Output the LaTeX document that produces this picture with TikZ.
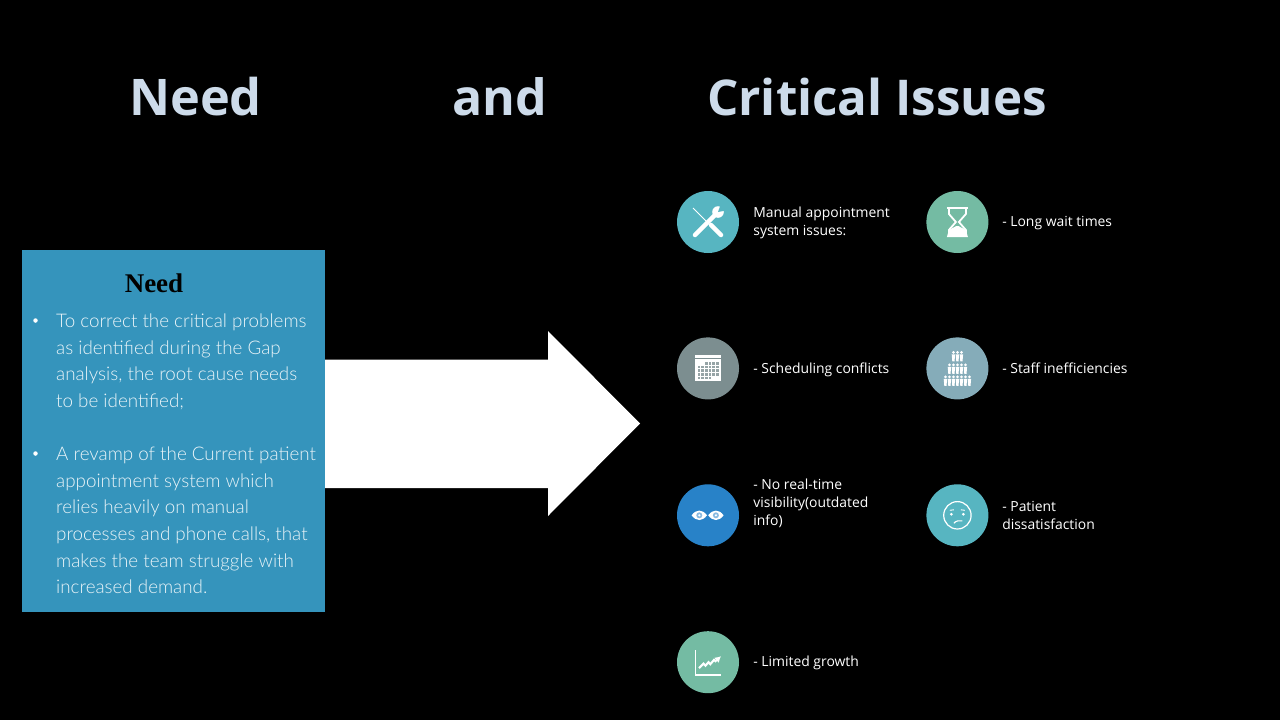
\documentclass[tikz,border=0pt]{standalone}
\usepackage{fontspec}
\usepackage{tikz}
\usetikzlibrary{positioning, arrows.meta}
\setmainfont{Carlito}
\newfontfamily\bodyfont{Lato Light}
\newfontfamily\titlefont{Open Sans}
\newfontfamily\labelfont{Open Sans}
\newfontfamily\headfont{Liberation Serif}
\definecolor{titleblue}{HTML}{CDDBEA}
\definecolor{needbox}{HTML}{3594BC}
\definecolor{bodytext}{HTML}{EAF4F8}
\definecolor{teal}{HTML}{57B5C1}
\definecolor{mint}{HTML}{74BBA3}
\definecolor{slate}{HTML}{7C8E90}
\definecolor{haze}{HTML}{85ACB9}
\definecolor{azure}{HTML}{2882C8}
\tikzset{
	title node/.style={text=titleblue, inner sep=0pt, font=\titlefont\fontsize{49.3}{50}\selectfont\bfseries},
	icon node/.style={circle, minimum size=62pt, inner sep=0pt},
	issue node/.style={text=white, inner sep=0pt, align=left, font=\labelfont\fontsize{13.9}{17.7}\selectfont},
	body node/.style={text=bodytext, inner sep=0pt, align=left, anchor=north west, font=\bodyfont\fontsize{18.8}{26.7}\selectfont},
	dot node/.style={circle, fill=white, minimum size=4.5pt, inner sep=0pt},
	icon line/.style={draw=white, line width=1.4pt},
	pics/person/.style={code={
		\fill[white] (0,0) circle (1.5pt);
		\fill[white] (-1.7,1.9) -- (1.7,1.9) -- (1.1,9) -- (-1.1,9) -- cycle;
	}},
}
\begin{document}
\begin{tikzpicture}[x=1pt, y=-1pt]
			\fill[black] (0,0) rectangle (1280,720);
			\useasboundingbox (0,0) rectangle (1280,720);

			% Titles
			\node[title node, font=\titlefont\fontsize{50.5}{50}\selectfont\bfseries] (need) at (195.5,97) {Need};
			\node[title node, font=\titlefont\fontsize{50}{50}\selectfont\bfseries] (and) at (499.5,97) {and};
			\node[title node] (issues) at (877,97) {Critical Issues};

			% Arrow and box
			\fill[white] (320,359.5) -- (548,359.5) -- (548,331) -- (640,423.5) -- (548,516) -- (548,488) -- (320,488) -- cycle;
			\fill[needbox] (22,250) rectangle (325,612);
			\node[inner sep=0pt, font=\headfont\fontsize{27}{27}\selectfont\bfseries] (head) at (154,283) {Need};
			\node[dot node] (dot1) at (35.5,320.5) {};
			\node[body node] (text1) at (56,313.5) {To correct the critical problems\\as identified during the Gap\\analysis, the root cause needs\\to be identified;};
			\node[dot node] (dot2) at (35.5,453.5) {};
			\node[body node] (text2) at (56,446.5) {A revamp of the Current patient\\appointment system which\\relies heavily on manual\\processes and phone calls, that\\makes the team struggle with\\increased demand.};

			% Circles
			\node[icon node, fill=teal] (tools) at (708,222) {};
			\node[icon node, fill=mint] [right = 187pt of tools] (glass) {};
			\node[icon node, fill=slate] [below = 84pt of tools] (calendar) {};
			\node[icon node, fill=haze] [right = 187pt of calendar] (staff) {};
			\node[icon node, fill=azure] [below = 84.5pt of calendar] (eyes) {};
			\node[icon node, fill=teal] [right = 187pt of eyes] (face) {};
			\node[icon node, fill=mint] [below = 84.5pt of eyes] (chart) {};

			% Labels
			\node[issue node, anchor=west] [right = 14pt of tools, yshift=-1pt] (toolstext) {Manual appointment\\system issues:};
			\node[issue node, anchor=west] [right = 13.5pt of glass, yshift=-1pt] (glasstext) {- Long wait times};
			\node[issue node, anchor=west] [right = 14pt of calendar, yshift=-1pt] (calendartext) {- Scheduling conflicts};
			\node[issue node, anchor=west] [right = 13.5pt of staff] (stafftext) {- Staff inefficiencies};
			\node[issue node, anchor=west] [right = 14pt of eyes, yshift=12pt] (eyestext) {- No real-time\\visibility(outdated\\info)};
			\node[issue node, anchor=west] [right = 13.5pt of face] (facetext) {- Patient\\dissatisfaction};
			\node[issue node, anchor=west] [right = 14pt of chart, yshift=-1pt] (charttext) {- Limited growth};

			% Tools icon
			\begin{scope}[shift={(tools)}]
				\draw[white, line width=1pt] (-15,-14) -- (2,3);
				\draw[white, line width=4.5pt, line cap=round] (3,3) -- (13,13);
				\draw[white, line width=4.5pt, line cap=round] (-13,13) -- (7,-7);
				\fill[white] (10,-10) circle (5.8pt);
				\fill[teal] (10,-10) -- (12.5,-17) -- (18,-11.5) -- cycle;
			\end{scope}

			% Hourglass icon
			\begin{scope}[shift={(glass)}]
				\draw[icon line, line width=2pt] (-10.5,-14) -- (10.5,-14);
				\draw[icon line, line width=1.8pt] (-8.5,-14.5) -- (-8.5,-8) -- (-1.5,0) -- (-8.5,8) -- (-8.5,13);
				\draw[icon line, line width=1.8pt] (8.5,-14.5) -- (8.5,-8) -- (1.5,0) -- (8.5,8) -- (8.5,13);
				\fill[white] (-10.5,15) -- (10.5,15) -- (8.5,8) -- (1,4) -- (-1,4) -- (-8.5,8) -- cycle;
			\end{scope}

			% Calendar icon
			\begin{scope}[shift={(calendar)}]
				\fill[white] (-13,-13) rectangle (13,-10.3);
				\fill[white] (-13,-9) rectangle (13,13);
				\foreach \cx in {2,...,5}
					\fill[slate!80!white] (-10.3+\cx*3.65,-6.4) rectangle ++(2.7,2.7);
				\foreach \cy in {1,2,3} \foreach \cx in {0,...,5}
					\fill[slate!80!white] (-10.3+\cx*3.65,-6.4+\cy*3.65) rectangle ++(2.7,2.7);
				\foreach \cx in {0,...,3}
					\fill[slate!80!white] (-10.3+\cx*3.65,8.2) rectangle ++(2.7,2.7);
			\end{scope}

			% Staff icon
			\begin{scope}[shift={(staff)}]
				\foreach \px in {-4,0,4}
					\pic at (\px,-16) {person};
				\foreach \px in {-8,-4,0,4,8}
					\pic at (\px,-3.5) {person};
				\foreach \px in {-12,-8,-4,0,4,8,12}
					\pic at (\px,8.5) {person};
			\end{scope}

			% Eyes icon
			\begin{scope}[shift={(eyes)}]
				\foreach \ex in {-8.7,7.9} {
					\fill[white] (\ex-7.7,0) .. controls (\ex-3,-6.3) and (\ex+3,-6.3) .. (\ex+7.7,0) .. controls (\ex+3,6.3) and (\ex-3,6.3) .. (\ex-7.7,0) -- cycle;
					\fill[azure!55!white] (\ex,0) circle (3pt);
					\fill[white] (\ex,0) circle (1.2pt);
				}
			\end{scope}

			% Face icon
			\begin{scope}[shift={(face)}]
				\draw[white, line width=1.2pt] (0,0) circle (13.7pt);
				\fill[white] (-6,-1) circle (1.5pt);
				\fill[white] (6,-1) circle (1.5pt);
				\draw[white, line width=0.9pt] (-7.5,-5) -- (-3.5,-5.5);
				\draw[white, line width=0.9pt] (3.5,-5.5) -- (7.5,-5);
				\draw[white, line width=1.1pt] (-3.5,8) .. controls (-2,5.5) and (2,5) .. (5,5.5);
			\end{scope}

			% Chart icon
			\begin{scope}[shift={(chart)}]
				\draw[icon line, line width=1.6pt] (-12.6,-12) -- (-12.6,12.5) -- (13,12.5);
				\draw[white, line width=2.1pt, -{Latex[length=6pt, width=7pt]}] (-9,6) -- (-4.5,1.5) -- (-2.5,3.5) -- (0.5,0) -- (2.3,2) -- (6,-2.3) -- (7.5,-1) -- (13,-6);
			\end{scope}
		\end{tikzpicture}
\end{document}
